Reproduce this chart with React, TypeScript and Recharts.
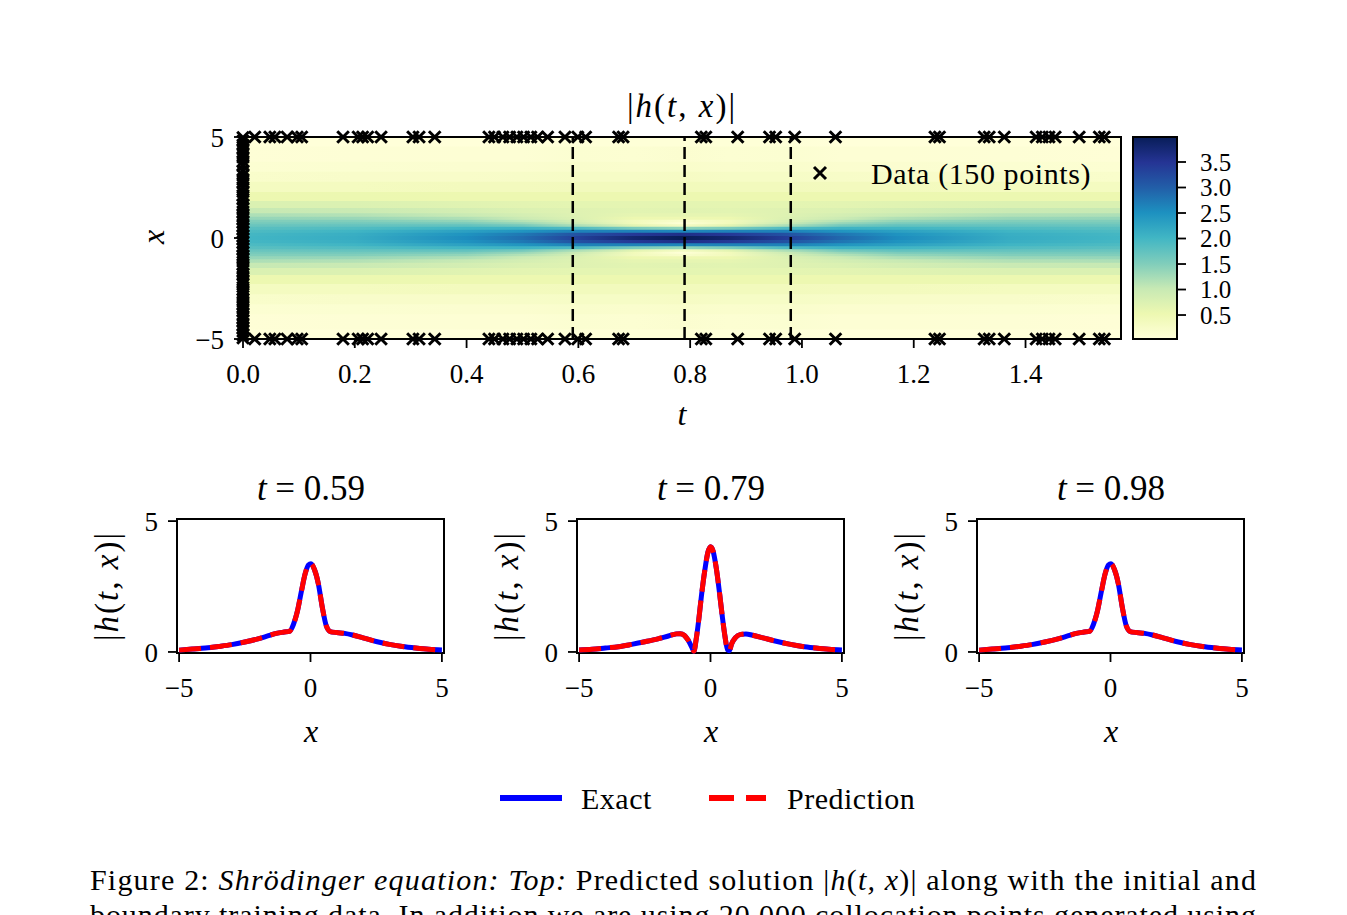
import React from 'react';
import {
  ScatterChart, Scatter, XAxis, YAxis, ReferenceArea, ReferenceLine,
  LineChart, Line,
} from 'recharts';

const FONT = '"Liberation Serif", "DejaVu Serif", serif';
const W = 1347;
const H = 915;

// ---------- heat map data: |h(t,x)| ----------
const T_MAX = 1.5708;
const heatT = [0, 0.2, 0.4, 0.5, 0.6, 0.7, 0.785, 0.87, 0.97, 1.07, 1.17, 1.37, 1.5708];
// |x| rows (field is mirrored in x)
const heatRowX = [0, 0.15, 0.3, 0.45, 0.6, 0.7, 0.8, 0.95, 1.1, 1.3, 1.6, 2.0, 2.5, 3.0, 3.5, 4.0, 5.0];
const heatValues = [
  [2.00, 2.15, 2.55, 2.85, 3.35, 3.80, 4.00, 3.80, 3.40, 2.90, 2.55, 2.15, 2.00],
  [1.98, 2.12, 2.48, 2.75, 3.15, 3.45, 3.60, 3.45, 3.15, 2.78, 2.48, 2.12, 1.98],
  [1.91, 2.02, 2.30, 2.45, 2.65, 2.65, 2.60, 2.65, 2.65, 2.45, 2.30, 2.02, 1.91],
  [1.81, 1.88, 2.03, 2.05, 1.90, 1.55, 1.40, 1.55, 1.90, 2.05, 2.03, 1.88, 1.81],
  [1.68, 1.72, 1.75, 1.60, 1.20, 0.65, 0.30, 0.65, 1.20, 1.60, 1.75, 1.72, 1.68],
  [1.59, 1.61, 1.55, 1.35, 0.95, 0.40, 0.05, 0.40, 0.95, 1.35, 1.55, 1.61, 1.59],
  [1.50, 1.50, 1.38, 1.15, 0.82, 0.38, 0.20, 0.38, 0.82, 1.15, 1.38, 1.50, 1.50],
  [1.36, 1.33, 1.18, 0.95, 0.75, 0.52, 0.50, 0.52, 0.75, 0.95, 1.18, 1.33, 1.36],
  [1.20, 1.16, 1.00, 0.85, 0.72, 0.62, 0.62, 0.62, 0.72, 0.85, 1.00, 1.16, 1.20],
  [1.02, 0.98, 0.85, 0.76, 0.71, 0.67, 0.68, 0.67, 0.71, 0.76, 0.85, 0.98, 1.02],
  [0.77, 0.76, 0.70, 0.66, 0.64, 0.63, 0.64, 0.63, 0.64, 0.66, 0.70, 0.76, 0.77],
  [0.53, 0.54, 0.53, 0.52, 0.53, 0.52, 0.52, 0.52, 0.53, 0.52, 0.53, 0.54, 0.53],
  [0.33, 0.34, 0.36, 0.37, 0.38, 0.38, 0.39, 0.38, 0.38, 0.37, 0.36, 0.34, 0.33],
  [0.20, 0.21, 0.23, 0.24, 0.27, 0.27, 0.29, 0.27, 0.27, 0.24, 0.23, 0.21, 0.20],
  [0.12, 0.13, 0.14, 0.15, 0.19, 0.18, 0.20, 0.18, 0.19, 0.15, 0.14, 0.13, 0.12],
  [0.07, 0.08, 0.09, 0.09, 0.13, 0.12, 0.14, 0.12, 0.13, 0.09, 0.09, 0.08, 0.07],
  [0.03, 0.03, 0.03, 0.03, 0.05, 0.05, 0.06, 0.05, 0.05, 0.03, 0.03, 0.03, 0.03],
];
const heatTTicks = [0, 0.2, 0.4, 0.6, 0.8, 1.0, 1.2, 1.4];
const heatXTicks = [-5, 0, 5];
const snapshotLines = [0.59, 0.79, 0.98];
const cbarTicks = [0.5, 1.0, 1.5, 2.0, 2.5, 3.0, 3.5];
const VMIN = 0.03;
const VMAX = 3.99;

// ---------- training data (150 points) ----------
const initialX = [-4.95, -4.8, -4.62, -4.45, -4.3, -4.1, -3.95, -3.78, -3.6, -3.42, -3.25, -3.05, -2.88, -2.7,
  -2.55, -2.3, -2.15, -1.98, -1.8, -1.62, -1.45, -1.3, -1.05, -0.9, -0.72, -0.55, -0.4, -0.22, -0.05, 0.1,
  0.28, 0.45, 0.6, 0.78, 0.95, 1.12, 1.3, 1.48, 1.65, 1.92, 2.1, 2.3, 2.5, 2.72, 2.9, 3.1, 3.3, 3.62, 3.8, 4.0,
  4.2, 4.4, 4.6, 4.8, 4.97];
const boundaryT = [0.021, 0.048, 0.057, 0.079, 0.097, 0.105, 0.179, 0.206, 0.214, 0.223, 0.247, 0.304, 0.315,
  0.343, 0.44, 0.45, 0.465, 0.477, 0.49, 0.502, 0.515, 0.527, 0.545, 0.576, 0.599, 0.613, 0.672, 0.68, 0.82,
  0.828, 0.885, 0.942, 0.953, 0.987, 1.06, 1.238, 1.246, 1.326, 1.335, 1.362, 1.419, 1.43, 1.442, 1.453,
  1.496, 1.532, 1.541];

// ---------- snapshots ----------
const snapshotTitles = ['0.59', '0.79', '0.98'];
const profX1 = [-5, -4.5, -4, -3.5, -3, -2.5, -2, -1.6, -1.3, -1.0, -0.8, -0.65, -0.5, -0.35, -0.2, -0.08, 0.02,
  0.15, 0.3, 0.45, 0.6, 0.75, 1.0, 1.3, 1.6, 2.0, 2.5, 3.0, 3.5, 4.0, 4.5, 5.0];
const exact1 = [0.07, 0.11, 0.15, 0.21, 0.28, 0.38, 0.50, 0.62, 0.71, 0.76, 0.79, 1.05, 1.55, 2.3, 3.0, 3.32, 3.37,
  3.15, 2.6, 1.7, 1.0, 0.78, 0.74, 0.71, 0.65, 0.54, 0.40, 0.29, 0.21, 0.15, 0.10, 0.07];
const pred1 = exact1;
const profX2 = [-5, -4.5, -4, -3.5, -3, -2.5, -2, -1.6, -1.3, -1.15, -1.0, -0.85, -0.72, -0.63, -0.55, -0.45,
  -0.35, -0.22, -0.1, 0.0, 0.1, 0.22, 0.35, 0.45, 0.55, 0.65, 0.72, 0.8, 0.95, 1.15, 1.35, 1.6, 2.0, 2.5, 3.0,
  3.5, 4.0, 4.5, 5.0];
const exact2 = [0.07, 0.10, 0.15, 0.20, 0.29, 0.39, 0.50, 0.61, 0.69, 0.70, 0.64, 0.45, 0.20, 0.03, 0.45, 1.2,
  2.1, 3.1, 3.8, 4.02, 3.85, 3.2, 2.2, 1.35, 0.6, 0.08, 0.05, 0.30, 0.55, 0.67, 0.69, 0.64, 0.54, 0.41, 0.30,
  0.21, 0.15, 0.10, 0.07];
const pred2 = exact2;
const profX3 = profX1;
const exact3 = [0.07, 0.11, 0.15, 0.21, 0.28, 0.38, 0.50, 0.62, 0.71, 0.76, 0.79, 1.05, 1.55, 2.3, 3.0, 3.32, 3.37,
  3.15, 2.6, 1.7, 1.0, 0.78, 0.74, 0.71, 0.65, 0.54, 0.40, 0.29, 0.21, 0.15, 0.10, 0.07];
const pred3 = exact3;
const panelXTicks = [-5, 0, 5];
const panelYTicks = [0, 5];

// ---------- colour map (YlGnBu) ----------
const YLGNBU = ['#ffffd9', '#edf8b1', '#c7e9b4', '#7fcdbb', '#41b6c4', '#1d91c0', '#225ea8', '#253494', '#081d58'];
function hex(c: string) {
  return [parseInt(c.slice(1, 3), 16), parseInt(c.slice(3, 5), 16), parseInt(c.slice(5, 7), 16)];
}
function cmap(v: number) {
  const f = Math.max(0, Math.min(1, (v - VMIN) / (VMAX - VMIN))) * 8;
  const i = Math.min(7, Math.floor(f));
  const a = hex(YLGNBU[i]);
  const b = hex(YLGNBU[i + 1]);
  const k = f - i;
  const m = a.map((x, j) => Math.round(x + (b[j] - x) * k));
  return `rgb(${m[0]},${m[1]},${m[2]})`;
}

const minus = (v: number) => (v < 0 ? '\u2212' + Math.abs(v) : String(v));

// strips for the heat map
const strips: { y1: number; y2: number; r: number }[] = [];
for (let r = 0; r < heatRowX.length; r++) {
  const c = heatRowX[r];
  const lo = r === 0 ? 0 : (heatRowX[r - 1] + c) / 2;
  const hi = r === heatRowX.length - 1 ? 5 : (c + heatRowX[r + 1]) / 2 + 0.03;
  if (r === 0) strips.push({ y1: -hi, y2: hi, r });
  else {
    strips.push({ y1: lo - 0.03, y2: hi, r });
    strips.push({ y1: -hi, y2: -lo + 0.03, r });
  }
}
strips.sort((a, b) => b.r - a.r);

const markers = [
  ...initialX.map((x) => ({ t: 0, x })),
  ...boundaryT.map((t) => ({ t, x: 5 })),
  ...boundaryT.map((t) => ({ t, x: -5 })),
];

const XMark = (props: any) => {
  const { cx, cy } = props;
  const s = 5.8;
  return (
    <path d={`M${cx - s},${cy - s}L${cx + s},${cy + s}M${cx - s},${cy + s}L${cx + s},${cy - s}`}
      stroke="#000" strokeWidth={3} fill="none" />
  );
};

const tickStyle = { fontFamily: FONT, fontSize: 27, fill: '#000' };

const Txt = ({ x, y, size, rotate, left, spacing, children }: any) => (
  <div style={{
    position: 'absolute', left: x, top: y,
    transform: `translate(${left ? '0' : '-50%'},-50%)${rotate ? ` rotate(${rotate}deg)` : ''}`,
    fontFamily: FONT, fontSize: size, whiteSpace: 'nowrap', lineHeight: 1, color: '#000',
    letterSpacing: spacing || 0,
  }}>{children}</div>
);

const HT = () => (<span>|<i>h</i>(<i>t</i>, <i>x</i>)|</span>);

const HM = { l: 243, r: 1121, t: 137, b: 339 };
const CB = { l: 1133, r: 1177, t: 137, b: 339 };

function Panel({ i, xs, ex, pr }: any) {
  const l = 177 + 400 * i;
  const r = l + 267;
  const t = 519;
  const b = 653;
  const data = xs.map((x: number, k: number) => ({ x, exact: ex[k], pred: pr[k] }));
  return (
    <LineChart width={W} height={H} data={data}
      style={{ position: 'absolute', left: 0, top: 0 }}
      margin={{ top: t, left: l - 60, right: W - r, bottom: H - b - 60 }}>
      <XAxis type="number" dataKey="x" domain={[-5.08, 5.08]} ticks={panelXTicks} tickFormatter={minus}
        tick={tickStyle} tickSize={9} tickMargin={16} axisLine={false} interval={0}
        tickLine={{ stroke: '#000', strokeWidth: 1.8 }} height={60} />
      <YAxis type="number" domain={[-0.04, 5.08]} ticks={panelYTicks} tick={tickStyle} tickSize={9}
        tickMargin={10} axisLine={false} interval={0} tickLine={{ stroke: '#000', strokeWidth: 1.8 }} width={60} />
      <ReferenceArea x1={-5.08} x2={5.08} y1={-0.04} y2={5.08} fill="none" fillOpacity={0}
        stroke="#000" strokeWidth={2} />
      <Line type="monotone" dataKey="exact" stroke="#0000ff" strokeWidth={5} dot={false}
        isAnimationActive={false} />
      <Line type="monotone" dataKey="pred" stroke="#ff0000" strokeWidth={5} strokeDasharray="22 9"
        dot={false} isAnimationActive={false} />
    </LineChart>
  );
}

export default function App() {
  const panels = [
    { xs: profX1, ex: exact1, pr: pred1 },
    { xs: profX2, ex: exact2, pr: pred2 },
    { xs: profX3, ex: exact3, pr: pred3 },
  ];
  return (
    <div style={{ position: 'absolute', left: 0, top: 0, width: W, height: H, overflow: 'hidden', background: '#fff' }}>
      <svg width={0} height={0} style={{ position: 'absolute' }}>
        <defs>
          {heatValues.map((row, r) => (
            <linearGradient id={`hrow${r}`} key={r} x1="0" y1="0" x2="1" y2="0">
              {row.map((v, c) => (
                <stop key={c} offset={heatT[c] / T_MAX} stopColor={cmap(v)} />
              ))}
            </linearGradient>
          ))}
          <linearGradient id="cbar" x1="0" y1="1" x2="0" y2="0">
            {YLGNBU.map((c, i) => <stop key={i} offset={i / 8} stopColor={c} />)}
          </linearGradient>
        </defs>
      </svg>

      {/* heat map */}
      <ScatterChart width={W} height={H} style={{ position: 'absolute', left: 0, top: 0 }}
        margin={{ top: HM.t, left: HM.l - 60, right: W - HM.r, bottom: H - HM.b - 60 }}>
        <XAxis type="number" dataKey="t" domain={[0, T_MAX]} ticks={heatTTicks} interval={0}
          tickFormatter={(v: number) => v.toFixed(1)} tick={tickStyle} tickSize={9} tickMargin={16}
          axisLine={false} tickLine={{ stroke: '#000', strokeWidth: 1.8 }} height={60} />
        <YAxis type="number" dataKey="x" domain={[-5, 5]} ticks={heatXTicks} tickFormatter={minus} interval={0}
          tick={tickStyle} tickSize={9} tickMargin={10} axisLine={false}
          tickLine={{ stroke: '#000', strokeWidth: 1.8 }} width={60} />
        {strips.map((s, k) => (
          <ReferenceArea key={k} x1={0} x2={T_MAX} y1={s.y1} y2={s.y2} fill={`url(#hrow${s.r})`}
            fillOpacity={1} stroke="none" />
        ))}
        <ReferenceArea x1={0} x2={T_MAX} y1={-5} y2={5} fill="none" fillOpacity={0} stroke="#000" strokeWidth={2} />
        {snapshotLines.map((t) => (
          <ReferenceLine key={t} x={t} stroke="#000" strokeWidth={2.5} strokeDasharray="12 6" />
        ))}
        <Scatter data={markers} shape={<XMark />} isAnimationActive={false} />
      </ScatterChart>

      {/* colour bar */}
      <ScatterChart width={W} height={H} style={{ position: 'absolute', left: 0, top: 0 }}
        margin={{ top: CB.t, left: CB.l, right: W - CB.r - 100, bottom: H - CB.b }}>
        <XAxis type="number" dataKey="c" domain={[0, 1]} hide />
        <YAxis type="number" dataKey="v" orientation="right" domain={[VMIN, VMAX]} ticks={cbarTicks} interval={0}
          tickFormatter={(v: number) => v.toFixed(1)} tick={{ ...tickStyle, fontSize: 25 }} tickSize={9}
          tickMargin={14} axisLine={false} tickLine={{ stroke: '#000', strokeWidth: 1.8 }} width={100} />
        <ReferenceArea x1={0} x2={1} y1={VMIN} y2={VMAX} fill="url(#cbar)" fillOpacity={1}
          stroke="#000" strokeWidth={2} />
        <Scatter data={[{ c: 0.5, v: 1 }]} shape={() => <g />} isAnimationActive={false} />
      </ScatterChart>

      {panels.map((p, i) => <Panel key={i} i={i} {...p} />)}

      {/* heat map texts */}
      <Txt x={682} y={106} size={33} spacing="2px"><HT /></Txt>
      <Txt x={682} y={414} size={32}><i>t</i></Txt>
      <Txt x={153} y={237} size={32} rotate={-90}><i>x</i></Txt>
      <svg width={20} height={20} style={{ position: 'absolute', left: 810, top: 163 }}>
        <path d="M4,4L16,16M4,16L16,4" stroke="#000" strokeWidth={3} />
      </svg>
      <Txt x={871} y={174} size={30} spacing="0.6px" left>Data (150 points)</Txt>

      {/* snapshot texts */}
      {snapshotTitles.map((s, i) => (
        <React.Fragment key={s}>
          <Txt x={311 + 400 * i} y={488} size={35}><i>t</i>&nbsp;=&nbsp;{s}</Txt>
          <Txt x={311 + 400 * i} y={731} size={32}><i>x</i></Txt>
          <Txt x={107 + 400 * i} y={586} size={33} spacing="2px" rotate={-90}><HT /></Txt>
        </React.Fragment>
      ))}

      {/* legend */}
      <svg width={W} height={40} style={{ position: 'absolute', left: 0, top: 779 }}>
        <line x1={500} x2={562} y1={19} y2={19} stroke="#0000ff" strokeWidth={6} />
        <line x1={709} x2={766} y1={19} y2={19} stroke="#ff0000" strokeWidth={6} strokeDasharray="25 12" />
      </svg>
      <Txt x={581} y={799} size={30} spacing="0.5px" left>Exact</Txt>
      <Txt x={787} y={799} size={30} spacing="0.5px" left>Prediction</Txt>

      {/* caption (second line runs off the bottom of the page, as in the reference) */}
      <svg width={W} height={80} style={{ position: 'absolute', left: 0, top: 860 }}>
        <text x={90} y={30} fontFamily={FONT} fontSize={30} textLength={1166} lengthAdjust="spacing">
          Figure 2: <tspan fontStyle="italic">Shrödinger equation: Top:</tspan> Predicted solution |<tspan fontStyle="italic">h</tspan>(<tspan fontStyle="italic">t, x</tspan>)| along with the initial and
        </text>
        <text x={90} y={65} fontFamily={FONT} fontSize={30} textLength={1166} lengthAdjust="spacing">
          boundary training data. In addition we are using 20,000 collocation points generated using
        </text>
      </svg>
    </div>
  );
}
